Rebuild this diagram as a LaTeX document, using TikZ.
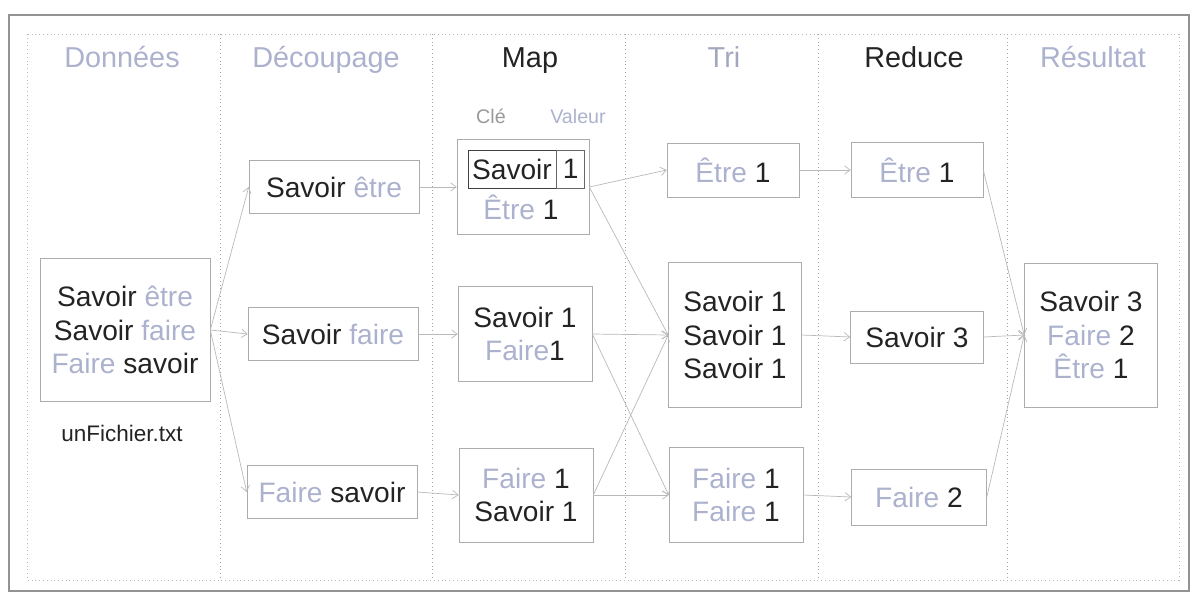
\documentclass[tikz,border=0pt]{standalone}
\usepackage{fontspec}
\setmainfont{Liberation Sans}
\usetikzlibrary{arrows.meta, positioning}
\definecolor{pale}{RGB}{172,177,206}
\definecolor{ink}{RGB}{35,35,35}

\begin{document}
\begin{tikzpicture}[x=0.025cm, y=-0.025cm,
      box/.style={rectangle, draw=gray!65, inner sep=0pt, align=center,
        text=ink, font=\fontsize{20}{24}\selectfont},
      head/.style={anchor=base, text=ink, font=\fontsize{20.5}{24}\selectfont},
      small/.style={anchor=base, font=\fontsize{14}{16}\selectfont},
      arr/.style={draw=gray!55, line width=0.5pt,
        -{Straight Barb[length=4pt, width=6pt]}},
      sep/.style={draw=gray!70, dotted, line width=0.7pt}
    ]
  \useasboundingbox (0,0) rectangle (1192,593);
  \draw[gray!85, line width=0.8pt] (9,15) rectangle (1189,591);
  \draw[sep, draw=gray!55] (27,34) rectangle (1179,580);
  \foreach \x in {220,432,625,818,1007}
    \draw[sep] (\x,34) -- (\x,580);

  \node[head, text=pale] (h1) at (122,67) {Données};
  \node[head, text=pale] (h2) at (326,67) {Découpage};
  \node[head] (h3) at (530,67) {Map};
  \node[head, text=pale!80!gray] (h4) at (724,67) {Tri};
  \node[head] (h5) at (914,67) {Reduce};
  \node[head, text=pale] (h6) at (1093,67) {Résultat};

  \node[small, text=gray!80] (cle) at (491,123) {Clé};
  \node[small, text=pale] (val) at (578,123) {Valeur};

  \node[box, minimum width=4.25cm, minimum height=3.575cm] (d1) at (125,330)
    {Savoir \textcolor{pale}{être}\\ Savoir \textcolor{pale}{faire}\\
     \textcolor{pale}{Faire} savoir};
  \node[anchor=base, text=ink, font=\fontsize{16}{18}\selectfont] (file) at (122,441) {unFichier.txt};

  \node[box, minimum width=4.25cm, minimum height=1.32cm] (s1) at (334,187)
    {Savoir \textcolor{pale}{être}};
  \node[box, minimum width=4.25cm, minimum height=1.32cm] (s2) at (333,334)
    {Savoir \textcolor{pale}{faire}};
  \node[box, minimum width=4.25cm, minimum height=1.32cm] (s3) at (332,492)
    {\textcolor{pale}{Faire} savoir};

  \node[box, minimum width=3.3cm, minimum height=2.375cm] (m1) at (523,187) {};
  \node[box, draw=black!75, minimum width=2.2cm, minimum height=0.95cm] (k1) at (512,169) {Savoir};
  \node[box, draw=black!60, minimum width=0.7cm, minimum height=0.95cm, right=0pt of k1] (v1) {1};
  \node[box, draw=none] (e1) at (521,207) {\textcolor{pale}{Être} 1};
  \node[box, minimum width=3.35cm, minimum height=2.375cm] (m2) at (525,334)
    {Savoir 1\\ \textcolor{pale}{Faire}1};
  \node[box, minimum width=3.35cm, minimum height=2.35cm] (m3) at (526,495)
    {\textcolor{pale}{Faire} 1\\ Savoir 1};

  \node[box, minimum width=3.3cm, minimum height=1.35cm] (t1) at (733,170)
    {\textcolor{pale}{Être} 1};
  \node[box, minimum width=3.325cm, minimum height=3.625cm] (t2) at (735,335)
    {Savoir 1\\ Savoir 1\\ Savoir 1};
  \node[box, minimum width=3.35cm, minimum height=2.375cm] (t3) at (736,495)
    {\textcolor{pale}{Faire} 1\\ \textcolor{pale}{Faire} 1};

  \node[box, minimum width=3.3cm, minimum height=1.375cm] (r1) at (917,170)
    {\textcolor{pale}{Être} 1};
  \node[box, minimum width=3.325cm, minimum height=1.3cm] (r2) at (917,337)
    {Savoir 3};
  \node[box, minimum width=3.375cm, minimum height=1.4cm] (r3) at (919,497)
    {\textcolor{pale}{Faire} 2};

  \node[box, minimum width=3.325cm, minimum height=3.6cm] (res) at (1091,335)
    {Savoir 3\\ \textcolor{pale}{Faire} 2\\ \textcolor{pale}{Être} 1};

  \draw[arr] (d1.east) -- (s1.west);
  \draw[arr] (d1.east) -- (s2.west);
  \draw[arr] (d1.east) -- (s3.west);
  \draw[arr] (s1.east) -- (m1.west);
  \draw[arr] (s2.east) -- (m2.west);
  \draw[arr] (s3.east) -- (m3.west);
  \draw[arr] (m1.east) -- (t1.west);
  \draw[arr] (m1.east) -- (t2.west);
  \draw[arr] (m2.east) -- (t2.west);
  \draw[arr] (m2.east) -- (t3.west);
  \draw[arr] (m3.east) -- (t3.west);
  \draw[arr] (m3.east) -- (t2.west);
  \draw[arr] (t1.east) -- (r1.west);
  \draw[arr] (t2.east) -- (r2.west);
  \draw[arr] (t3.east) -- (r3.west);
  \draw[arr] (r1.east) -- (res.west);
  \draw[arr] (r2.east) -- (res.west);
  \draw[arr] (r3.east) -- (res.west);
\end{tikzpicture}
\end{document}
